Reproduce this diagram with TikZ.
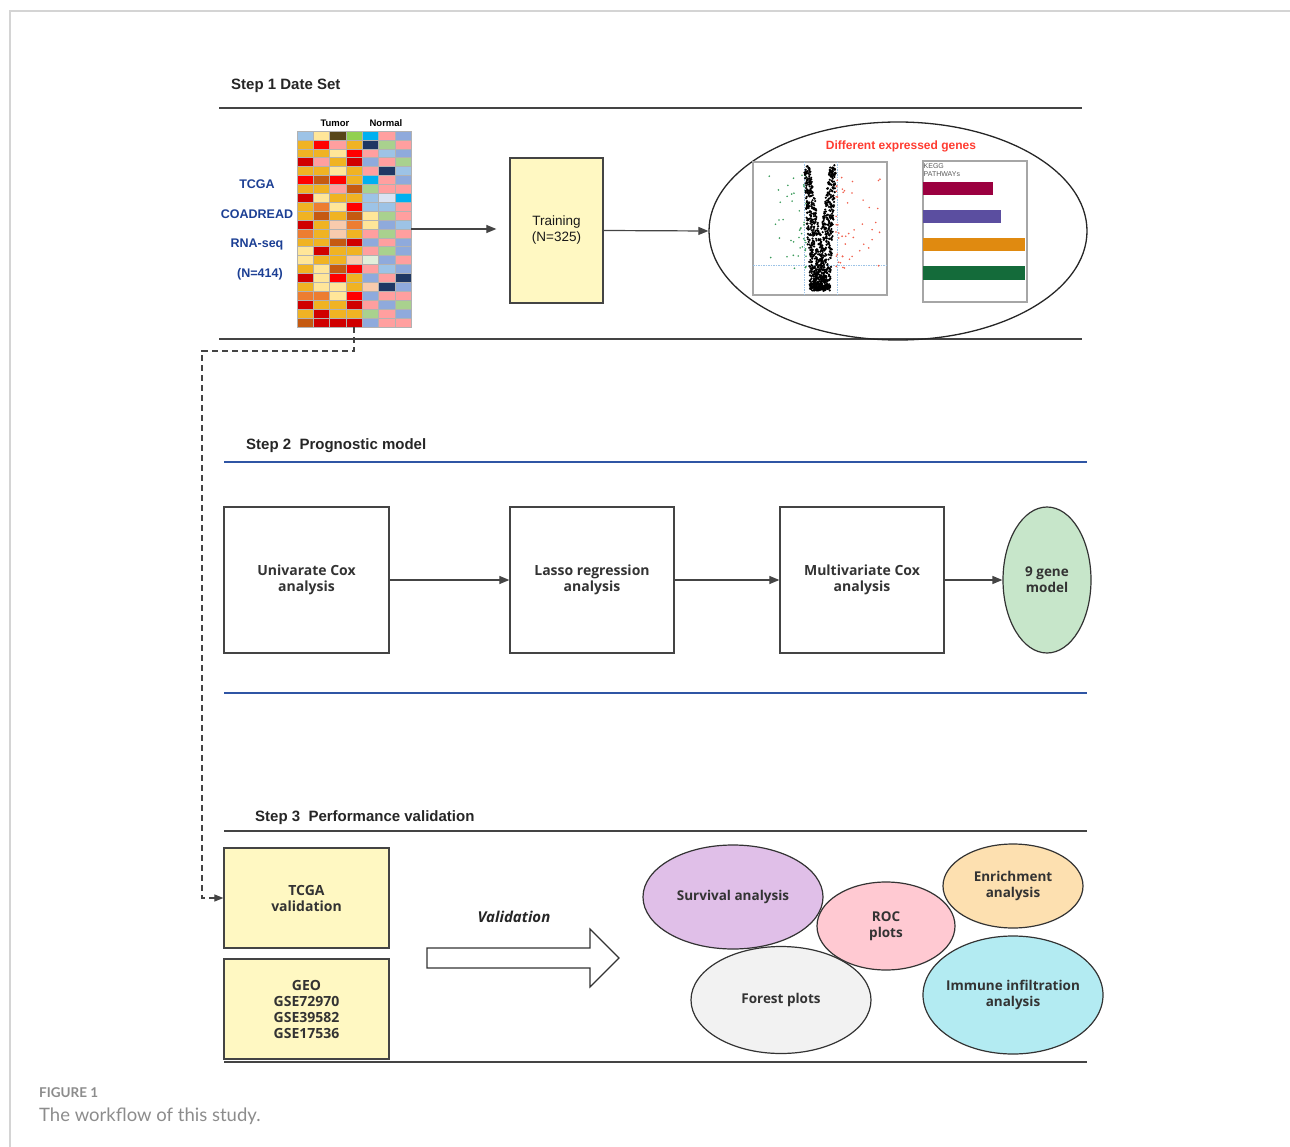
\documentclass[tikz,border=0pt]{standalone}
\usepackage{fontspec}
\setmainfont{Liberation Sans}
\newfontfamily\boxfont{Open Sans}
\newfontfamily\capfont{Lato}
\usetikzlibrary{arrows.meta, positioning, shapes.geometric}
\definecolor{framegray}{HTML}{D4D4D4}
\definecolor{linegray}{HTML}{444444}
\definecolor{boxyellow}{HTML}{FFF8C2}
\definecolor{stepblue}{HTML}{2F55A4}
\definecolor{textblue}{HTML}{1C3F94}
\definecolor{degred}{HTML}{FF3B30}
\definecolor{capgray}{HTML}{8C8C8C}
\definecolor{guideblue}{HTML}{9CC3E6}
\definecolor{upred}{HTML}{F0604D}
\definecolor{downgreen}{HTML}{3A9A5A}
\definecolor{barcrimson}{HTML}{9B0040}
\definecolor{barpurple}{HTML}{5B4EA0}
\definecolor{barorange}{HTML}{E08A10}
\definecolor{bargreen}{HTML}{146B3A}
\definecolor{survfill}{HTML}{E0BFE8}
\definecolor{rocfill}{HTML}{FFC9D2}
\definecolor{enrfill}{HTML}{FDE0B0}
\definecolor{forfill}{HTML}{F2F2F2}
\definecolor{immfill}{HTML}{B3EBF2}
\definecolor{genefill}{HTML}{C7E6CA}
% heatmap
\definecolor{hmlb}{HTML}{9DC3E6}
\definecolor{hmly}{HTML}{FFE699}
\definecolor{hmol}{HTML}{574619}
\definecolor{hmgr}{HTML}{92D050}
\definecolor{hmcy}{HTML}{00B0F0}
\definecolor{hmpk}{HTML}{FF9F9F}
\definecolor{hmbl}{HTML}{8FAADC}
\definecolor{hmgd}{HTML}{F0B323}
\definecolor{hmrd}{HTML}{FF0000}
\definecolor{hmnv}{HTML}{1F3864}
\definecolor{hmlg}{HTML}{A9D18E}
\definecolor{hmdr}{HTML}{D00000}
\definecolor{hmrs}{HTML}{C55A11}
\definecolor{hmor}{HTML}{ED7D31}
\definecolor{hmpc}{HTML}{F8CBAD}
\definecolor{hmlv}{HTML}{DAE3F3}
\definecolor{hmwt}{HTML}{E2EFDA}
\tikzset{
  rule/.style={draw=linegray, line width=1.5pt},
  bluerule/.style={draw=stepblue, line width=1.5pt},
  steptitle/.style={anchor=west, inner sep=0pt, text=black!85, font=\bfseries\fontsize{15}{18}\selectfont},
  box/.style={draw=linegray, line width=1.3pt, minimum width=165pt, minimum height=146pt, inner sep=2pt,
    align=center, text=black!80, font=\boxfont\bfseries\fontsize{14}{16}\selectfont},
  ybox/.style={box, fill=boxyellow, minimum height=100pt},
  blob/.style={ellipse, draw=black!80, line width=1.2pt, inner xsep=-8pt, inner ysep=0pt, align=center, text=black!80,
    font=\boxfont\bfseries\fontsize{13.5}{16}\selectfont},
  flow/.style={draw=linegray, line width=1.2pt, -{Triangle[length=10pt,width=8pt]}},
  sidelab/.style={text=textblue, font=\bfseries\fontsize{12.5}{14}\selectfont},
}
\begin{document}
\begin{tikzpicture}[x=1pt, y=-1pt]
  \useasboundingbox (0,0) rectangle (1290,1147);
  \draw[framegray, line width=1.2pt] (10,1147) -- (10,11) -- (1290,11); %枠

  %% Step 1
  \node[steptitle] (s1) at (231,86) {Step 1 Date Set};
  \draw[rule] (219,108) -- (1082,108);
  \draw[rule] (219,339) -- (1082,339);

  \foreach \row [count=\i from 0] in {{lb,ly,ol,gr,cy,pk,bl},{gd,rd,pk,gd,nv,lg,pk},{gd,gd,ly,rd,pk,lb,bl},
      {dr,pk,gd,dr,bl,pk,lg},{gd,gd,ly,gd,pk,nv,lb},{rd,rs,rd,gd,cy,pk,bl},{gd,gd,pk,rs,lg,pk,pk},
      {dr,ly,gd,gd,lb,lv,cy},{gd,or,ly,rd,lb,lb,pk},{gd,rs,gd,rs,ly,lg,pk},{dr,gd,pc,or,ly,bl,lb},
      {or,gd,pc,gd,pk,lg,pk},{gd,gd,rs,dr,bl,pk,bl},{ly,dr,gd,gd,pk,lg,bl},{ly,gd,gd,pc,wt,bl,pk},
      {gd,ly,rs,rd,pk,lb,bl},{dr,ly,rd,gd,bl,pk,nv},{gd,ly,ly,gd,pc,nv,bl},{or,or,ly,rd,bl,pk,pk},
      {dr,gd,gd,dr,pk,bl,lg},{gd,dr,gd,gd,lg,pk,bl},{rs,dr,dr,dr,bl,pk,pk}}{
    \foreach \c [count=\j from 0] in \row
      \filldraw[fill=hm\c, draw=black!30, line width=0.4pt] ({297+16.3*\j},{131+8.9*\i}) rectangle ++(16.3,8.9);
  } %ヒートマップ
  \node[inner sep=0pt, minimum width=114pt, minimum height=196pt] (heat) at (354,229) {};
  \node[font=\bfseries\fontsize{9.5}{11}\selectfont] (tum) at (335,123) {Tumor};
  \node[font=\bfseries\fontsize{9.5}{11}\selectfont] (nor) at (386,123) {Normal};
  \node[sidelab] (lab1) at (257,184) {TCGA};
  \node[sidelab] (lab2) at (257,214) {COADREAD};
  \node[sidelab] (lab3) at (257,244) {RNA-seq};
  \node[sidelab] (lab4) at (260,274) {(N=414)};

  \node[box, fill=boxyellow, minimum width=93pt, minimum height=145pt, text=black!90, font=\fontsize{13.5}{16}\selectfont] (train) at (556.5,230.5) {Training\\(N=325)};
  \draw[flow, shorten >=13pt] (heat.east) -- (heat.east -| train.west);

  \node[ellipse, draw=black!85, line width=1.3pt, minimum width=378pt, minimum height=218pt] (deg) at (898,231) {};
  \draw[flow] (train.east) -- (deg.west);
  \node[text=degred, font=\bfseries\fontsize{12}{14}\selectfont] (degtitle) at (901,146) {Different expressed genes};

  % volcano
  \node[draw=gray!70, line width=1.2pt, minimum width=134pt, minimum height=133pt, inner sep=0pt] (volc) at (820,228.5) {};
  \draw[guideblue, line width=0.6pt, dash pattern=on 1.5pt off 1pt] (804,162) -- (804,295) (837,162) -- (837,295) (753,265) -- (887,265);
  \pgfmathsetseed{42}
  \foreach \k in {1,...,45}{
    \pgfmathsetmacro\px{806-38*rnd^2}
    \pgfmathsetmacro\py{270-95*rnd}
    \fill[downgreen] (\px,\py) circle (0.9pt);
  }
  \foreach \k in {1,...,50}{
    \pgfmathsetmacro\px{836+44*rnd^2}
    \pgfmathsetmacro\py{276-100*rnd}
    \fill[upred] (\px,\py) circle (0.9pt);
  }
  \foreach \k in {1,...,1000}{
    \pgfmathsetmacro\t{rnd^1.7}
    \pgfmathsetmacro\s{rnd<0.5 ? -1 : 1}
    \pgfmathsetmacro\px{820+\s*(1+12*\t)+(9-6*\t)*rand}
    \pgfmathsetmacro\py{289-122*\t+2*rand}
    \fill[black] (\px,\py) circle (1.2pt);
  }

  % KEGG
  \node[draw=gray!70, line width=1.2pt, minimum width=104pt, minimum height=141pt, inner sep=0pt] (kegg) at (975,231.5) {};
  \node[anchor=north west, inner sep=0.5pt, align=left, text=black!65, font=\fontsize{7}{7.5}\selectfont] (keggt) at (923,163) {KEGG\\PATHWAYs};
  \fill[barcrimson] (923,182) rectangle (993,195);
  \fill[barpurple] (923,210) rectangle (1001,223);
  \fill[barorange] (923,238) rectangle (1025,251);
  \fill[bargreen] (923,266) rectangle (1025,280);

  %% Step 2
  \node[steptitle] (s2) at (246,446) {Step 2\ \ Prognostic model};
  \draw[bluerule] (224,462) -- (1087,462);
  \draw[bluerule] (224,693) -- (1087,693);
  \node[box] (uni) at (306.5,580) {Univarate Cox\\analysis};
  \node[box, minimum width=164pt] (lasso) at (592,580) {Lasso regression\\analysis};
  \node[box, minimum width=164pt] (multi) at (862,580) {Multivariate Cox\\analysis};
  \node[blob, fill=genefill, minimum width=88pt, minimum height=146pt] (gene) at (1047,580) {9 gene\\model};
  \draw[flow] (uni) -- (lasso);
  \draw[flow] (lasso) -- (multi);
  \draw[flow] (multi) -- (gene);

  %% Step 3
  \node[steptitle] (s3) at (255,818) {Step 3\ \ Performance validation};
  \draw[rule] (224,831) -- (1087,831);
  \draw[rule] (224,1062) -- (1087,1062);
  \node[ybox] (tcga) at (306.5,898) {TCGA\\validation};
  \node[ybox] (geo) at (306.5,1009) {GEO\\GSE72970\\GSE39582\\GSE17536};
  \coordinate (turn) at (202,351);
  \draw[draw=linegray, line width=1.2pt, dash pattern=on 6pt off 4pt, -{Triangle[length=9pt,width=7pt]}] (heat.south) |- (turn) |- (tcga.west); %破線

  \node[text=black!85, font=\boxfont\bfseries\itshape\fontsize{15}{18}\selectfont] (vlab) at (514,917) {Validation};
  \draw[draw=black!80, line width=1.2pt, fill=white] (427,948) -- (590,948) -- (590,929) -- (619,958)
    -- (590,987) -- (590,968) -- (427,968) -- cycle; %白抜き矢印

  \node[blob, fill=survfill, minimum width=180pt, minimum height=104pt] (surv) at (733,897) {Survival analysis};
  \node[blob, fill=forfill, minimum width=180pt, minimum height=107pt] (forest) at (781,1000) {Forest plots};
  \node[blob, fill=rocfill, minimum width=138pt, minimum height=88pt] (roc) at (886,926) {ROC\\plots};
  \node[blob, fill=enrfill, minimum width=140pt, minimum height=84pt] (enr) at (1013,886) {Enrichment\\analysis};
  \node[blob, fill=immfill, minimum width=180pt, minimum height=118pt] (imm) at (1013,995) {Immune infiltration\\analysis};

  %% caption
  \node[anchor=west, inner sep=0pt, text=capgray, font=\capfont\bfseries\fontsize{13.5}{15}\selectfont] (fig) at (39,1093) {FIGURE 1};
  \node[anchor=west, inner sep=0pt, text=capgray, font=\capfont\fontsize{18.5}{21}\selectfont] (cap) at (39,1116) {The workflow of this study.};
\end{tikzpicture}
\end{document}
